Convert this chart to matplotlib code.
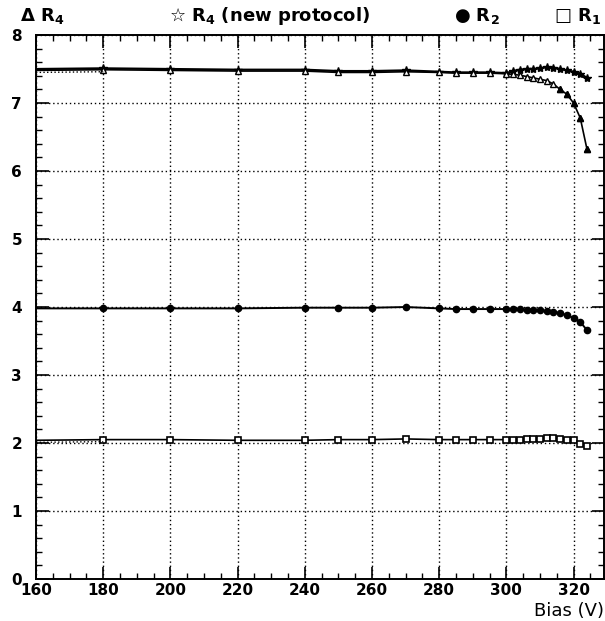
import matplotlib
matplotlib.use("Agg")
import matplotlib.pyplot as plt
import matplotlib.ticker as mticker

plt.rcParams.update({
    "font.family": "DejaVu Sans",
    "font.weight": "bold",
    "xtick.direction": "in",
    "ytick.direction": "in",
})

# ---------------------------------------------------------------------------
# data
# ---------------------------------------------------------------------------
bias_low = [160, 180, 200, 220, 240, 250, 260, 270, 280, 285, 290, 295, 300]
bias_high = [302, 304, 306, 308, 310, 312, 314, 316, 318, 320, 322, 324]
bias = bias_low + bias_high

r4_old = [7.48, 7.49, 7.48, 7.47, 7.47, 7.45, 7.45, 7.46, 7.45, 7.44, 7.44, 7.44, 7.43,
          7.42, 7.41, 7.39, 7.37, 7.35, 7.33, 7.28, 7.20, 7.13, 7.00, 6.78, 6.32]
r4_new = [7.50, 7.51, 7.50, 7.49, 7.49, 7.47, 7.47, 7.48, 7.46, 7.45, 7.45, 7.45, 7.44,
          7.47, 7.49, 7.50, 7.50, 7.51, 7.53, 7.52, 7.50, 7.48, 7.46, 7.43, 7.37]
r2 = [3.98, 3.98, 3.98, 3.98, 3.99, 3.99, 3.99, 4.00, 3.98, 3.97, 3.97, 3.97, 3.97,
      3.97, 3.97, 3.96, 3.96, 3.95, 3.94, 3.93, 3.91, 3.88, 3.84, 3.78, 3.66]
r1 = [2.04, 2.05, 2.05, 2.04, 2.04, 2.05, 2.05, 2.06, 2.05, 2.05, 2.05, 2.05, 2.05,
      2.05, 2.05, 2.06, 2.06, 2.06, 2.07, 2.07, 2.06, 2.05, 2.04, 1.99, 1.96]

# ---------------------------------------------------------------------------
# plot
# ---------------------------------------------------------------------------
fig = plt.figure(figsize=(6.05, 6.21), dpi=100)
ax = fig.add_axes([0.0595, 0.0676, 0.9385, 0.876])

marks = slice(1, None)
ax.plot(bias, r4_new, color="black", lw=1.6, marker="*", ms=6, markevery=marks)
ax.plot(bias, r4_old, color="black", lw=1.2, marker="^", ms=4.5, mfc="white",
        mew=1.0, markevery=marks)
# the steep tail of the old-protocol R4 reads as filled triangles
ax.plot(bias[-5:], r4_old[-5:], ls="none", marker="^", ms=5, color="black")
ax.plot(bias, r2, color="black", lw=1.4, marker="o", ms=4.5, markevery=marks)
ax.plot(bias, r1, color="black", lw=1.2, marker="s", ms=4.5, mfc="white",
        mew=1.2, markevery=marks)
# dotted trace under the data lines at low bias
for series in (r4_old, r1):
    ax.plot(bias[:2], [v - 0.03 for v in series[:2]], color="black", lw=1.0, ls=":")

ax.set_xlim(160, 329)
ax.set_ylim(0, 8)
ax.xaxis.set_major_locator(mticker.MultipleLocator(20))
ax.xaxis.set_minor_locator(mticker.MultipleLocator(5))
ax.yaxis.set_major_locator(mticker.MultipleLocator(1))
ax.yaxis.set_minor_locator(mticker.MultipleLocator(0.2))
ax.tick_params(which="both", top=True, right=True, labelsize=11)
ax.tick_params(axis="x", which="major", pad=3)
ax.tick_params(axis="y", which="major", pad=10)
ax.tick_params(which="major", length=9, width=1.2)
ax.tick_params(which="minor", length=4, width=1.0)
ax.grid(True, which="major", ls=(0, (1, 2)), lw=1.0, color="black")
for s in ax.spines.values():
    s.set_linewidth(1.4)
for lab in ax.get_xticklabels() + ax.get_yticklabels():
    lab.set_fontweight("bold")

fig.text(0.998, 0.002, "Bias (V)", ha="right", va="bottom", fontsize=13,
         fontweight="normal")

# legend row along the top
fig.text(0.033, 0.975, "$\\Delta$ R$_4$", fontsize=13, va="center")
fig.text(0.28, 0.975, "\u2606 R$_4$ (new protocol)", fontsize=13, va="center")
fig.text(0.75, 0.975, "\u25cf R$_2$", fontsize=13, va="center")
fig.text(0.915, 0.975, "\u25a1 R$_1$", fontsize=13, va="center")

fig.savefig("out.png", dpi=100)
